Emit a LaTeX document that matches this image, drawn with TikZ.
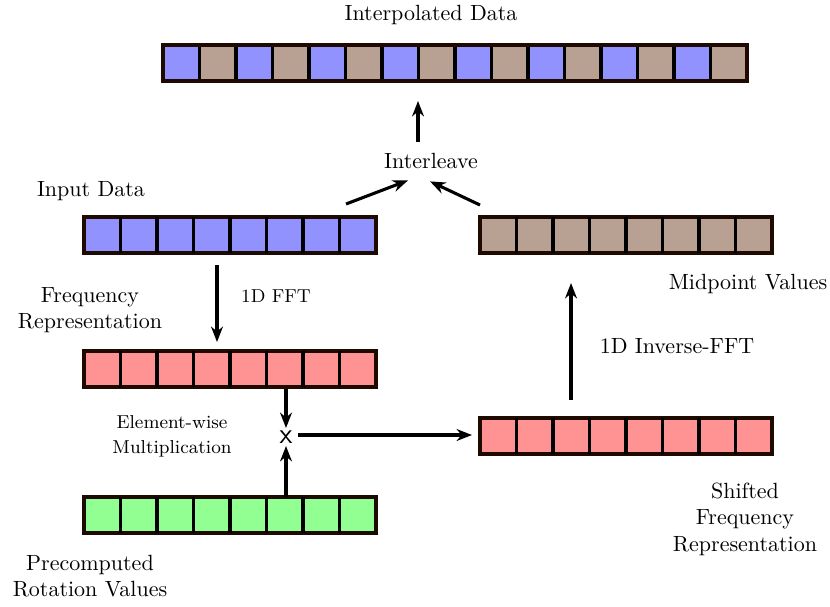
\documentclass[tikz,border=0pt]{standalone}
\usetikzlibrary{arrows.meta,calc}
\definecolor{cblue}{RGB}{146,146,255}
\definecolor{cbrown}{RGB}{184,161,146}
\definecolor{cred}{RGB}{255,146,146}
\definecolor{cgreen}{RGB}{146,255,146}
\definecolor{cborder}{RGB}{30,10,0}
\begin{document}
\begin{tikzpicture}[x=0.4545pt,y=-0.4545pt,
  arrbox/.style={draw=cborder,line width=1.85pt,outer sep=0pt,inner sep=0pt,
    minimum width=292*0.4545pt,minimum height=36*0.4545pt},
  sepline/.style={draw=black,line width=1.8pt},
  conn/.style={line width=1.4pt,-{Stealth[length=7pt,width=5.4pt]}},
  lbl/.style={align=center,inner sep=1pt,font=\normalsize},
  slbl/.style={align=center,inner sep=1pt,font=\fontsize{8.5}{11.5}\selectfont}]
\useasboundingbox (0,0) rectangle (830,606);

% top interleaved array
\node[arrbox,draw=none,minimum width=584*0.4545pt] (top) at (455,63) {};
\foreach \i in {0,...,15}{
  \pgfmathtruncatemacro{\odd}{mod(\i,2)}
  \ifnum\odd=0 \def\cc{cblue}\else\def\cc{cbrown}\fi
  \fill[\cc] ($(top.north west)+(\i*36.5,0)$) rectangle ($(top.north west)+(\i*36.5+36.5,36)$);
}
\foreach \i in {1,...,15}{
  \draw[sepline] ($(top.north west)+(\i*36.5,0)$) -- ($(top.south west)+(\i*36.5,0)$);
}
\draw[draw=cborder,line width=1.85pt] (top.north west) rectangle (top.south east);

% 8-cell arrays
\node[arrbox,fill=cblue] (input) at (230,235) {};
\node[arrbox,fill=cbrown] (mid) at (626,235) {};
\node[arrbox,fill=cred] (freq) at (230,369) {};
\node[arrbox,fill=cred] (shift) at (626,436) {};
\node[arrbox,fill=cgreen] (rot) at (230,515) {};
\foreach \a in {input,mid,freq,shift,rot}{
  \foreach \i in {1,...,7}{
    \draw[sepline] ($(\a.north west)+(\i*36.5,0)$) -- ($(\a.south west)+(\i*36.5,0)$);
  }
}

% labels
\node[lbl] (ttop) at (431,15) {Interpolated Data};
\node[lbl] (inter) at (431,161) {Interleave};
\node[lbl] (tin) at (91,191) {Input Data};
\node[lbl] (tmid) at (748,284) {Midpoint Values};
\node[lbl] (tfreq) at (90,310) {Frequency\\Representation};
\node[slbl] (tfft) at (276,296) {1D FFT};
\node[lbl] (tifft) at (677,346) {1D Inverse-FFT};
\node[slbl] (tmul) at (172,436) {Element-wise\\Multiplication};
\node[inner sep=1pt,font=\fontsize{13}{13}\sffamily] (mul) at (286,437) {x};
\node[lbl] (tshift) at (745,519) {Shifted\\Frequency\\Representation};
\node[lbl] (trot) at (90,576) {Precomputed\\Rotation Values};

% connectors
\draw[conn] ($(inter.north)+(-13,-9)$) -- ($(top.south)+(-37,20)$);
\draw[conn] ($(input.north)+(116,-13)$) -- ($(inter.south)+(-23,9)$);
\draw[conn] ($(mid.north)+(-146,-12)$) -- ($(inter.south)+(-1,10)$);
\draw[conn] ($(input.south)+(-13,12)$) -- ($(freq.north)+(-13,-9)$);
\draw[conn] ($(freq.south)+(56,2)$) -- (mul.north);
\draw[conn] ($(rot.north)+(56,0)$) -- (mul.south);
\draw[conn] ($(mul.east)+(3,-2)$) -- ($(mul.east -| shift.west)+(-8,-2)$);
\draw[conn] ($(shift.north)+(-55,-18)$) -- ($(mid.south)+(-55,30)$);
\end{tikzpicture}
\end{document}
